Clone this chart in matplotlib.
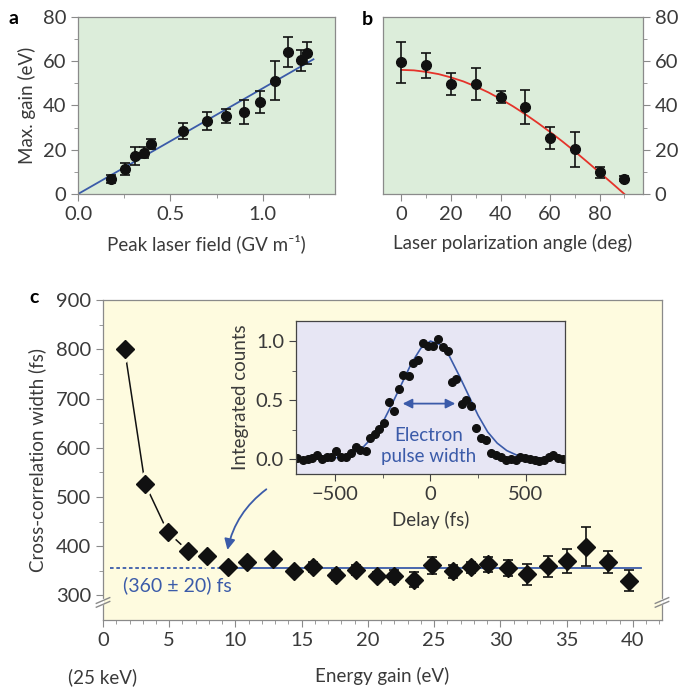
import numpy as np
import matplotlib
matplotlib.use('Agg')
import matplotlib.pyplot as plt
from matplotlib.ticker import MultipleLocator

plt.rcParams['font.family'] = ['Lato', 'DejaVu Sans']
plt.rcParams['axes.unicode_minus'] = True

# panel a: max gain vs peak laser field
a_field = [0.177, 0.253, 0.310, 0.356, 0.397, 0.568, 0.696, 0.803, 0.900, 0.985, 1.066, 1.138, 1.205, 1.239]
a_gain = [6.8, 11.3, 17.1, 18.6, 22.6, 28.6, 33.1, 35.2, 36.8, 41.6, 51.1, 64.2, 60.4, 63.7]
a_err = [2.0, 2.5, 4.0, 2.5, 2.3, 3.6, 4.1, 3.0, 5.4, 4.9, 8.9, 6.8, 4.7, 4.9]
a_fit_x = [0.0, 1.274]
a_fit_y = [0.0, 60.8]

# panel b: max gain vs polarization angle
b_angle = [0, 10, 20, 30, 40, 50, 60, 70, 80, 90]
b_gain = [59.5, 58.0, 49.6, 49.7, 43.7, 39.2, 25.3, 20.2, 9.8, 7.0]
b_err = [9.3, 5.7, 5.0, 7.2, 2.8, 7.8, 5.0, 7.8, 2.4, 1.2]
b_fit_x = [0, 5, 10, 15, 20, 25, 30, 35, 40, 45, 50, 55, 60, 65, 70, 75, 80, 85, 90]
b_fit_y = [56.0, 55.8, 55.1, 54.1, 52.6, 50.8, 48.5, 45.9, 42.9, 39.6, 36.0, 32.1, 28.0, 23.7, 19.2, 14.5, 9.7, 4.9, 0.0]

# panel c: cross-correlation width vs energy gain
c_gain = [1.63, 3.17, 4.88, 6.39, 7.82, 9.40, 10.84, 12.8, 14.4, 15.86, 17.6, 19.1, 20.7, 22.0,
          23.5, 24.86, 26.4, 27.8, 29.1, 30.6, 32.0, 33.6, 35.0, 36.5, 38.1, 39.7]
c_width = [800, 527, 429, 391, 381, 357, 368, 375, 350, 358, 342, 351, 340, 339,
           332, 361, 349, 357, 363, 355, 343, 359, 370, 399, 368, 330]
c_err = [0, 0, 0, 0, 0, 4, 5, 5, 6, 10, 10, 10, 8, 12,
         15, 17, 13, 11, 15, 16, 21, 22, 24, 40, 22, 22]
c_level = 356
c_fit_n = 5

# inset: integrated counts vs delay
ins_delay = [-700, -668, -642, -619, -595, -569, -543, -519, -493, -467, -444, -418, -392, -367,
             -339, -318, -292, -270, -243, -217, -193, -166, -144, -114, -91, -65, -39, -15,
             14, 40, 66, 92, 115, 136, 163, 189, 215, 241, 264, 290, 315, 343, 369, 395,
             420, 446, 469, 495, 521, 547, 570, 596, 622, 643, 669, 696]
ins_counts = [0.006, -0.008, 0.0, 0.011, 0.034, -0.003, 0.019, 0.019, 0.07, 0.019, 0.014, 0.048,
              0.099, 0.08, 0.07, 0.176, 0.212, 0.252, 0.308, 0.48, 0.41, 0.59, 0.71, 0.70, 0.81,
              0.84, 0.98, 0.96, 0.96, 1.02, 0.95, 0.92, 0.65, 0.675, 0.466, 0.50, 0.448, 0.26,
              0.176, 0.161, 0.054, 0.034, 0.014, -0.008, 0.003, -0.008, 0.019, 0.011, -0.003,
              -0.008, -0.017, -0.008, 0.014, 0.034, 0.006, -0.003]
ins_fit_x = [-700, -500, -450, -400, -350, -300, -250, -200, -150, -100, -50, 0, 50, 100, 150,
             200, 250, 300, 350, 400, 450, 500, 700]
ins_fit_y = [0.0, 0.01, 0.025, 0.055, 0.106, 0.19, 0.31, 0.47, 0.64, 0.81, 0.94, 1.0, 0.97,
             0.87, 0.71, 0.54, 0.37, 0.23, 0.135, 0.072, 0.035, 0.016, 0.0]

green = '#dcedda'
yellow = '#fefbdf'
lavender = '#e7e6f4'
blue = '#3b5ba9'
red = '#e5332a'
grey = '#8a8a8a'
txt = '#3a3a3a'
TICK = 14.5
LAB = 13.5


def style(ax, color=grey):
    for s in ax.spines.values():
        s.set_color(color)
        s.set_linewidth(0.9)
    ax.tick_params(which='both', direction='out', colors=color, labelcolor=txt, labelsize=TICK)
    ax.tick_params(which='major', length=5)
    ax.tick_params(which='minor', length=3)


fig = plt.figure(figsize=(6.85, 6.88), dpi=100)

# ---- a
ax = fig.add_axes([0.1139, 0.718, 0.375, 0.2577])
ax.set_facecolor(green)
ax.plot(a_fit_x, a_fit_y, color=blue, lw=1.3)
ax.errorbar(a_field, a_gain, yerr=a_err, fmt='o', color='#111111', ms=7, capsize=3.5,
            elinewidth=1.2, capthick=1.2)
ax.set_xlim(0, 1.39)
ax.set_ylim(0, 80)
ax.xaxis.set_major_locator(MultipleLocator(0.5))
ax.xaxis.set_minor_locator(MultipleLocator(0.25))
ax.yaxis.set_major_locator(MultipleLocator(20))
ax.yaxis.set_minor_locator(MultipleLocator(10))
ax.xaxis.set_major_formatter(plt.FormatStrFormatter('%.1f'))
style(ax)
ax.set_xlabel('Peak laser field (GV m⁻¹)', fontsize=LAB, color=txt, labelpad=8)
ax.set_ylabel('Max. gain (eV)', fontsize=LAB, color=txt, labelpad=5)
fig.text(0.012, 0.973, 'a', fontsize=14, fontweight='bold', va='center')

# ---- b
ax = fig.add_axes([0.559, 0.718, 0.3796, 0.2577])
ax.set_facecolor(green)
ax.plot(b_fit_x, b_fit_y, color=red, lw=1.3)
ax.errorbar(b_angle, b_gain, yerr=b_err, fmt='o', color='#111111', ms=7, capsize=3.5,
            elinewidth=1.2, capthick=1.2)
ax.set_xlim(-7.5, 97.5)
ax.set_ylim(0, 80)
ax.xaxis.set_major_locator(MultipleLocator(20))
ax.xaxis.set_minor_locator(MultipleLocator(10))
ax.yaxis.set_major_locator(MultipleLocator(20))
ax.yaxis.set_minor_locator(MultipleLocator(10))
ax.yaxis.tick_right()
style(ax)
ax.set_xlabel('Laser polarization angle (deg)', fontsize=LAB, color=txt, labelpad=8)
fig.text(0.528, 0.971, 'b', fontsize=14, fontweight='bold', va='center')

# ---- c
ax = fig.add_axes([0.1504, 0.0988, 0.816, 0.465])
ax.set_facecolor(yellow)
ax.plot([0.5, 8.8], [c_level, c_level], color=blue, lw=1.3, ls=(0, (2, 1.5)))
ax.plot([8.8, 40.6], [c_level, c_level], color=blue, lw=1.3)
ax.plot(c_gain[:c_fit_n], c_width[:c_fit_n], color='#111111', lw=1.1, zorder=2)
# small halo round the first diamonds so the fit line stops short of them
ax.plot(c_gain[:c_fit_n], c_width[:c_fit_n], 'D', color=yellow, ms=13, zorder=2.5)
ax.errorbar(c_gain, c_width, yerr=c_err, fmt='D', color='#111111', ms=9.5, capsize=3.5,
            elinewidth=1.2, capthick=1.2, zorder=3)
ax.set_xlim(0, 42.2)
ax.set_ylim(250, 900)
ax.xaxis.set_major_locator(MultipleLocator(5))
ax.xaxis.set_minor_locator(MultipleLocator(1))
ax.set_yticks([300, 400, 500, 600, 700, 800, 900])
ax.set_yticks([350, 450, 550, 650, 750, 850], minor=True)
style(ax)
ax.set_xlabel('Energy gain (eV)', fontsize=LAB, color=txt, labelpad=13)
ax.set_ylabel('Cross-correlation width (fs)', fontsize=LAB, color=txt, labelpad=7)
ax.text(1.5, 320, '(360 ± 20) fs', color=blue, fontsize=14, va='center')
ax.annotate('', xy=(9.35, 387), xytext=(12.5, 519),
            arrowprops=dict(arrowstyle='-|>', color=blue, lw=1.3, mutation_scale=16,
                            connectionstyle='arc3,rad=0.2'))
fig.text(0.149, 0.016, '(25 keV)', fontsize=LAB, color=txt, ha='center', va='center')
fig.text(0.043, 0.568, 'c', fontsize=14, fontweight='bold', va='center')

# axis breaks
for xb in (0.0, 1.0):
    for dy in (0.0, 0.012):
        ax.plot([xb - 0.012, xb + 0.012], [0.04 + dy, 0.058 + dy], transform=ax.transAxes,
                color=grey, lw=1.0, clip_on=False, zorder=5)
    ax.plot([xb, xb], [0.05, 0.062], transform=ax.transAxes, color='white', lw=1.6,
            clip_on=False, zorder=4)

# ---- inset
ax = fig.add_axes([0.432, 0.311, 0.3927, 0.2224])
ax.set_facecolor(lavender)
ax.plot(ins_fit_x, ins_fit_y, color=blue, lw=1.2)
ax.plot(ins_delay, ins_counts, 'o', color='#111111', ms=5.5)
ax.annotate('', xy=(-160, 0.47), xytext=(145, 0.47),
            arrowprops=dict(arrowstyle='<|-|>', color=blue, lw=1.3, mutation_scale=14))
ax.text(-10, 0.11, 'Electron\npulse width', color=blue, fontsize=LAB, ha='center',
        va='center', linespacing=1.3)
ax.set_xlim(-705, 705)
ax.set_ylim(-0.127, 1.17)
ax.xaxis.set_major_locator(MultipleLocator(500))
ax.xaxis.set_minor_locator(MultipleLocator(250))
ax.yaxis.set_major_locator(MultipleLocator(0.5))
ax.yaxis.set_minor_locator(MultipleLocator(0.25))
ax.yaxis.set_major_formatter(plt.FormatStrFormatter('%.1f'))
style(ax, '#444444')
ax.set_xlabel('Delay (fs)', fontsize=LAB, color=txt, labelpad=6)
ax.set_ylabel('Integrated counts', fontsize=LAB, color=txt, labelpad=5)

fig.savefig('out.png', dpi=100)
